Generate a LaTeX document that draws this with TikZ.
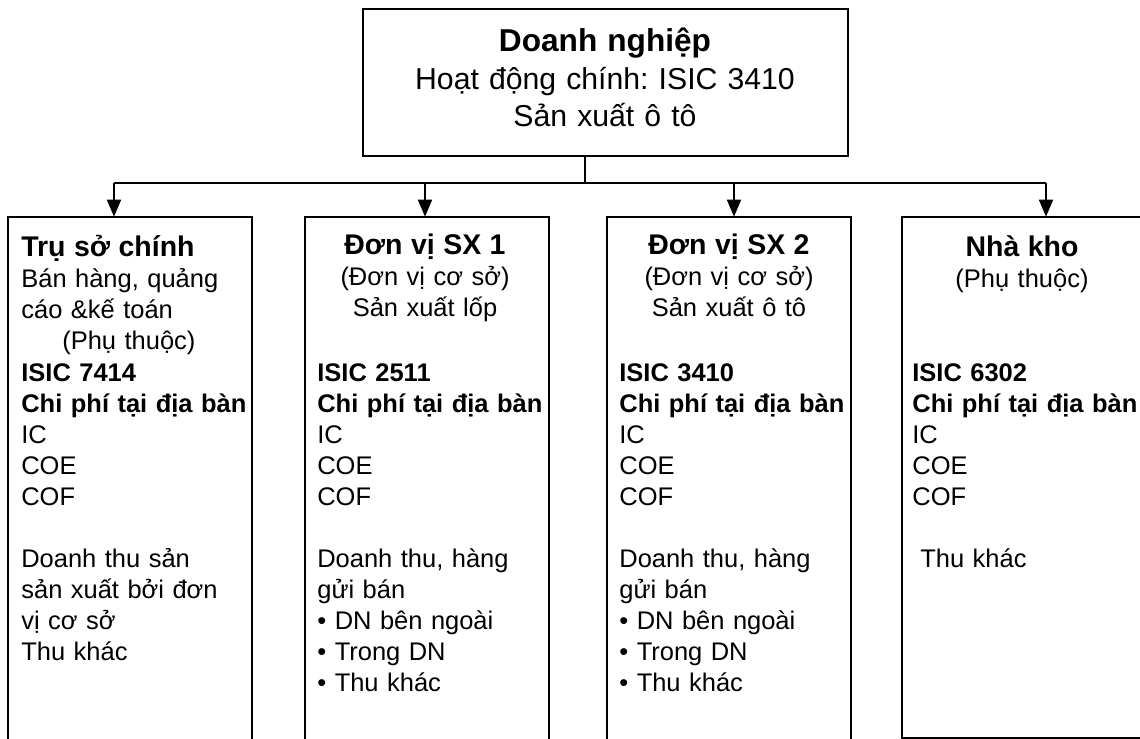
\documentclass[tikz,border=0pt]{standalone}
\usepackage{fontspec}
\setmainfont{Liberation Sans}
\usetikzlibrary{arrows.meta}
\newcommand{\unittitle}[1]{{\fontsize{16.2}{17.6}\selectfont\textbf{#1}}}
\tikzset{
  unit/.style={draw, line width=1pt, inner sep=0pt, outer sep=0pt, anchor=north west, minimum width=4.88cm},
  head/.style={anchor=base, align=center, text width=5cm, inner sep=0pt, font=\fontsize{14.5}{17.6}\selectfont},
  body/.style={anchor=base west, align=left, text width=5cm, inner sep=0pt, font=\fontsize{14.5}{17.6}\selectfont},
  link/.style={line width=1pt, -{Triangle[width=0.28cm,length=0.34cm]}},
}
\frenchspacing
\begin{document}
\begin{tikzpicture}[x=0.02cm,y=-0.02cm]
\useasboundingbox (0,0) rectangle (1140,739);
\clip (0,0) rectangle (1140,739);
% enterprise
\node[draw, line width=1pt, inner sep=0pt, minimum width=9.7cm, minimum height=2.94cm] (firm) at (605.5,82.5) {};
\node[anchor=base, align=center, text width=9cm, inner sep=0pt, font=\fontsize{17.2}{21.3}\selectfont] (firmtext) at (605,52)
  {{\fontsize{18}{21.3}\selectfont\textbf{Doanh nghiệp}}\\Hoạt động chính: ISIC 3410\\Sản xuất ô tô};
% units
\node[unit, minimum height=12cm] (hq) at (8,216.7) {};
\node[unit, minimum height=12cm] (sx1) at (305,216.7) {};
\node[unit, minimum height=12cm] (sx2) at (607,216.7) {};
\node[unit, minimum height=10.43cm] (kho) at (902,216.7) {};
% bus
\coordinate (bus) at (585,182.7);
\coordinate (busA) at (114,182.7);
\coordinate (busB) at (425,182.7);
\coordinate (busC) at (734,182.7);
\coordinate (busD) at (1046,182.7);
\draw[line width=1pt] (firm.south -| bus) -- (bus);
\draw[line width=1pt] (busA) -- (busD);
\draw[link] (busA) -- (busA |- hq.north);
\draw[link] (busB) -- (busB |- sx1.north);
\draw[link] (busC) -- (busC |- sx2.north);
\draw[link] (busD) -- (busD |- kho.north);
% texts
\node[body] (hqhead) at (21,257) {\unittitle{Trụ sở chính}\\Bán hàng, quảng\\cáo \&kế toán\\\hspace*{0.82cm}(Phụ thuộc)};
\node[body] (hqbody) at (21,382) {\textbf{ISIC 7414}\\\textbf{Chi phí tại địa bàn}\\IC\\COE\\COF\\[17.6pt]Doanh thu sản\\sản xuất bởi đơn\\vị cơ sở\\Thu khác};
\node[head] (sx1head) at (425,255) {\unittitle{Đơn vị SX 1}\\(Đơn vị cơ sở)\\Sản xuất lốp};
\node[body] (sx1body) at (317,382) {\textbf{ISIC 2511}\\\textbf{Chi phí tại địa bàn}\\IC\\COE\\COF\\[17.6pt]Doanh thu, hàng\\gửi bán\\• DN bên ngoài\\• Trong DN\\• Thu khác};
\node[head] (sx2head) at (729,255) {\unittitle{Đơn vị SX 2}\\(Đơn vị cơ sở)\\Sản xuất ô tô};
\node[body] (sx2body) at (619,382) {\textbf{ISIC 3410}\\\textbf{Chi phí tại địa bàn}\\IC\\COE\\COF\\[17.6pt]Doanh thu, hàng\\gửi bán\\• DN bên ngoài\\• Trong DN\\• Thu khác};
\node[head] (khohead) at (1022,257) {\unittitle{Nhà kho}\\(Phụ thuộc)};
\node[body] (khobody) at (912,382) {\textbf{ISIC 6302}\\\textbf{Chi phí tại địa bàn}\\IC\\COE\\COF\\[17.6pt]\hspace*{0.16cm}Thu khác};
\end{tikzpicture}
\end{document}
